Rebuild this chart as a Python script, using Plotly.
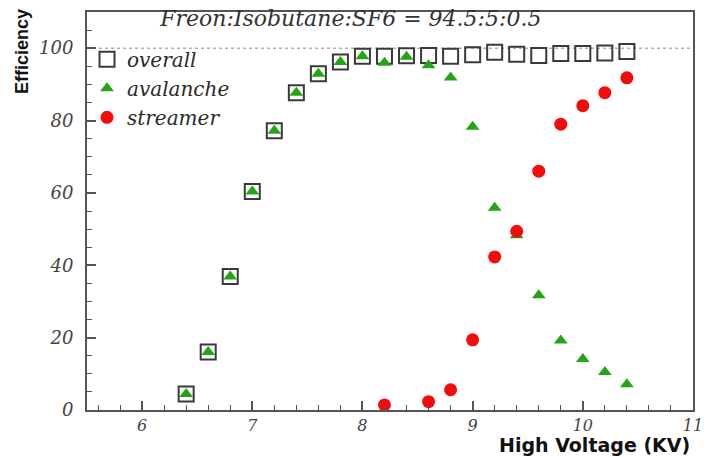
import plotly.graph_objects as go

# ---- data ----
hv_overall = [6.4, 6.6, 6.8, 7.0, 7.2, 7.4, 7.6, 7.8, 8.0, 8.2, 8.4, 8.6, 8.8,
              9.0, 9.2, 9.4, 9.6, 9.8, 10.0, 10.2, 10.4]
eff_overall = [4.4, 16.0, 36.9, 60.4, 77.2, 87.7, 92.9, 96.2, 97.8, 97.8, 97.9,
               98.0, 97.8, 98.2, 98.9, 98.3, 98.0, 98.5, 98.5, 98.7, 99.1]

hv_avalanche = [6.4, 6.6, 6.8, 7.0, 7.2, 7.4, 7.6, 7.8, 8.0, 8.2, 8.4, 8.6, 8.8,
                9.0, 9.2, 9.4, 9.6, 9.8, 10.0, 10.2, 10.4]
eff_avalanche = [4.4, 16.0, 36.9, 60.4, 77.2, 87.7, 92.9, 96.2, 97.8, 96.0, 97.6,
                 95.3, 91.9, 78.3, 55.9, 48.3, 31.7, 19.2, 14.1, 10.5, 7.1]

hv_streamer = [8.2, 8.6, 8.8, 9.0, 9.2, 9.4, 9.6, 9.8, 10.0, 10.2, 10.4]
eff_streamer = [1.4, 2.3, 5.6, 19.4, 42.3, 49.4, 66.0, 79.0, 84.1, 87.7, 91.8]

x_ticks = [6, 7, 8, 9, 10, 11]
y_ticks = [0, 20, 40, 60, 80, 100]

title_text = "Freon:Isobutane:SF6 = 94.5:5:0.5"

serif = "DejaVu Serif"
sans = "Liberation Sans"
axis_col = "#555555"

fig = go.Figure()
fig.add_trace(go.Scatter(
    x=hv_overall, y=eff_overall, mode="markers", name="overall",
    marker=dict(symbol="square-open", size=15, color="#3a3a3a", line=dict(width=2)),
))
fig.add_trace(go.Scatter(
    x=hv_avalanche, y=eff_avalanche, mode="markers", name="avalanche",
    marker=dict(symbol="triangle-up", size=12, color="#22a614", line=dict(width=0)),
))
fig.add_trace(go.Scatter(
    x=hv_streamer, y=eff_streamer, mode="markers", name="streamer",
    marker=dict(symbol="circle", size=13, color="#f20c0c", line=dict(width=0)),
))

# dotted reference line at 100 %
fig.add_shape(type="line", xref="paper", x0=0, x1=1, yref="y", y0=100, y1=100,
              line=dict(color="#888888", width=1, dash="dot"), layer="below")

fig.update_layout(
    width=713, height=457,
    margin=dict(l=87, r=10, t=10, b=47),
    paper_bgcolor="white", plot_bgcolor="white",
    title=dict(text=title_text, x=0.492, xanchor="center", y=0.961, yanchor="middle",
               xref="container", yref="container",
               font=dict(family=serif, size=22, style="italic", color="#333333")),
    showlegend=True,
    legend=dict(x=0.0, y=0.93, xanchor="left", yanchor="top",
                bgcolor="rgba(255,255,255,0)", borderwidth=0,
                font=dict(family=serif, size=20, style="italic", color="#2a2a2a"),
                itemwidth=30, tracegroupgap=0),
    xaxis=dict(range=[5.5, 11], tickvals=x_ticks, ticktext=[str(v) for v in x_ticks],
               ticks="inside", ticklen=9, tickwidth=1.5, tickcolor=axis_col,
               minor=dict(dtick=0.2, ticks="inside", ticklen=5, tickwidth=1.2, tickcolor=axis_col),
               showline=True, linewidth=2, linecolor=axis_col, mirror=True,
               showgrid=False, zeroline=False, ticklabelstandoff=0,
               tickfont=dict(family=serif, size=16, style="italic", color="#444444")),
    yaxis=dict(range=[0, 110], tickvals=y_ticks, ticktext=[str(v) for v in y_ticks],
               ticks="inside", ticklen=9, tickwidth=1.5, tickcolor=axis_col,
               minor=dict(dtick=5, ticks="inside", ticklen=5, tickwidth=1.2, tickcolor=axis_col),
               showline=True, linewidth=2, linecolor=axis_col, mirror=True,
               showgrid=False, zeroline=False, ticklabelstandoff=8,
               tickfont=dict(family=serif, size=18, style="italic", color="#444444")),
)

fig.add_annotation(text="High Voltage (KV)", xref="paper", yref="paper",
                   x=0.997, y=-0.117, xanchor="right", yanchor="bottom", showarrow=False,
                   borderpad=0,
                   font=dict(family="DejaVu Sans", size=19, weight="bold", color="#111111"))
fig.add_annotation(text="Efficiency", xref="paper", yref="paper", textangle=-90,
                   x=-0.107, y=0.9, xanchor="center", yanchor="middle", showarrow=False,
                   font=dict(family=sans, size=18, weight="bold", color="#111111"))

fig.write_html("out.html")
